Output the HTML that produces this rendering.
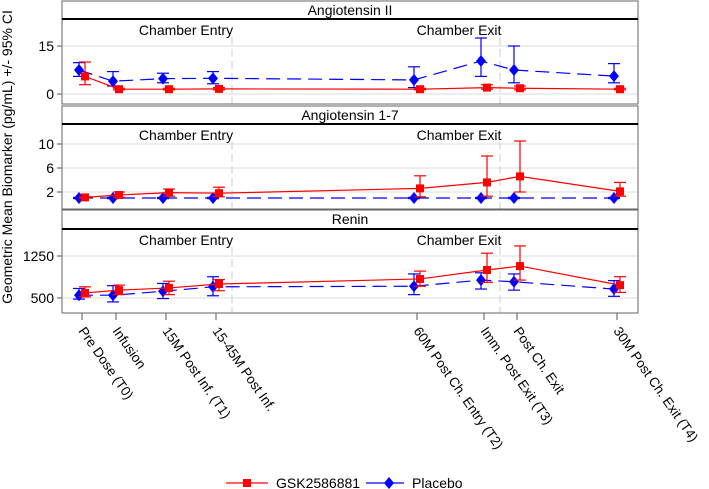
<!DOCTYPE html>
<html><head><meta charset="utf-8"><style>
body{margin:0;background:#fff}
svg{display:block;font-family:"Liberation Sans","DejaVu Sans",sans-serif}
</style></head><body>
<svg id="c" width="709" height="489" viewBox="0 0 709 489"></svg>
<script>
const categories=["Pre Dose (T0)","Infusion","15M Post Inf. (T1)","15-45M Post Inf.","60M Post Ch. Entry (T2)","Imm. Post Exit (T3)","Post Ch. Exit","30M Post Ch. Exit (T4)"];
const catTime=[0,0.68,1.68,2.68,6.7,8.04,8.7,10.7];
const panelTitles=["Angiotensin II","Angiotensin 1-7","Renin"];
const ticks1=[0,15],ticks2=[2,6,10],ticks3=[500,1250];
const ang2Placebo=[7.5,4,4.8,4.9,4.4,10.3,7.5,5.6];
const ang2PlaceboLo=[5.5,2.5,3.5,3.2,2,5.5,3.5,3.5];
const ang2PlaceboHi=[9.8,7,6.5,7,8.5,17.5,15,9.5];
const ang2Gsk=[5.5,1.5,1.5,1.6,1.5,2,1.8,1.5];
const ang2GskLo=[2.9,1.3,1.3,1.3,1.3,1.5,1.3,1.3];
const ang2GskHi=[10,1.8,1.8,2,1.8,2.9,2.5,1.8];
const ang17Placebo=[1,1,1,1,1,1,1,1];
const ang17PlaceboLo=[0.9,0.9,0.9,0.9,0.9,0.9,0.9,0.9];
const ang17PlaceboHi=[1.1,1.1,1.1,1.1,1.1,1.1,1.1,1.1];
const ang17Gsk=[1.1,1.5,1.9,1.8,2.6,3.6,4.6,2.1];
const ang17GskLo=[1,1.1,1.3,1.2,1.2,1.3,2,1.3];
const ang17GskHi=[1.2,2,2.5,2.8,4.7,8,10.5,3.6];
const reninPlacebo=[550,550,620,700,710,820,790,660];
const reninPlaceboLo=[480,430,490,540,560,660,640,530];
const reninPlaceboHi=[670,720,760,880,930,950,930,810];
const reninGsk=[590,640,680,750,840,1000,1070,730];
const reninGskLo=[520,560,560,630,710,780,820,600];
const reninGskHi=[700,730,800,830,980,1300,1430,880];

const S=document.getElementById('c'),NS='http://www.w3.org/2000/svg';
function el(t,a,p){const e=document.createElementNS(NS,t);for(const k in a)e.setAttribute(k,a[k]);(p||S).appendChild(e);return e;}
const L=62,R=638;
const x=t=>82+(617-82)*(t-catTime[0])/(catTime[7]-catTime[0]);
const panels=[
 {top:1,hb:19,bot:104,ticks:ticks1,y:v=>94-3.2*v,p:[ang2Placebo,ang2PlaceboLo,ang2PlaceboHi],g:[ang2Gsk,ang2GskLo,ang2GskHi]},
 {top:106,hb:124,bot:209,ticks:ticks2,y:v=>204-6*v,p:[ang17Placebo,ang17PlaceboLo,ang17PlaceboHi],g:[ang17Gsk,ang17GskLo,ang17GskHi]},
 {top:210,hb:229,bot:313,ticks:ticks3,y:v=>298-(v-500)*0.056,p:[reninPlacebo,reninPlaceboLo,reninPlaceboHi],g:[reninGsk,reninGskLo,reninGskHi]}
];
panels.forEach((P,i)=>{
 const g=el('g',{});
 
 
 P.ticks.forEach(t=>{
  const gy=el('line',{x1:L,x2:R,y1:P.y(t),y2:P.y(t),stroke:'#ddd'},g);
  
  el('line',{x1:L-5,x2:L,y1:P.y(t),y2:P.y(t),stroke:'#555'},g);
  const tl=el('text',{x:L-8,y:P.y(t)+5,'text-anchor':'end','font-size':14},g);tl.textContent=t;
  
 });
 [232,500].forEach(xx=>el('line',{x1:xx,x2:xx,y1:P.hb+18,y2:P.bot,stroke:'#ccc','stroke-dasharray':'8,4'},g));
 el('rect',{x:L,y:P.top,width:R-L,height:P.bot-P.top,fill:'none',stroke:'#666'},g);
 el('line',{x1:L,x2:R,y1:P.hb,y2:P.hb,stroke:'#000','stroke-width':2},g);
 const ht=el('text',{x:(L+R)/2,y:P.top+14,'text-anchor':'middle','font-size':14},g);ht.textContent=panelTitles[i];
 
 [[186,'Chamber Entry'],[459,'Chamber Exit']].forEach(([cx,s])=>{const t=el('text',{x:cx,y:P.hb+16,'text-anchor':'middle','font-size':14},g);t.textContent=s;
  });
 [[P.p,'#00f',-3,'diamond'],[P.g,'#f00',3,'square']].forEach(([d,c,off,m])=>{
  const pts=d[0].map((v,k)=>(x(catTime[k])+off)+','+P.y(v)).join(' ');
  const ln=el('polyline',{points:pts,fill:'none',stroke:c,'stroke-width':1.2,'stroke-dasharray':m=='diamond'?'14,7':''},g);
  
  d[0].forEach((v,k)=>{
   const cx=x(catTime[k])+off,lo=P.y(d[1][k]),hi=P.y(d[2][k]);
   el('line',{x1:cx,x2:cx,y1:lo,y2:hi,stroke:c,'stroke-width':1.2},g);
   el('line',{x1:cx-6,x2:cx+6,y1:lo,y2:lo,stroke:c,'stroke-width':1.2},g);
   el('line',{x1:cx-6,x2:cx+6,y1:hi,y2:hi,stroke:c,'stroke-width':1.2},g);
   const cy=P.y(v);
   const mk=m=='square'?el('rect',{x:cx-4,y:cy-4,width:8,height:8,fill:c},g):el('polygon',{points:`${cx},${cy-6} ${cx+5},${cy} ${cx},${cy+6} ${cx-5},${cy}`,fill:c},g);
   
  });
 });
});
categories.forEach((c,k)=>{
 const xx=x(catTime[k]);
 el('line',{x1:xx,x2:xx,y1:313,y2:320,stroke:'#555'});
 const t=el('text',{x:xx-4,y:331,'font-size':13.5,transform:`rotate(55 ${xx-4} 331)`});t.textContent=c;
 
});
const yt=el('text',{x:12,y:157,'text-anchor':'middle','font-size':14,transform:'rotate(-90 12 157)'});
yt.textContent='Geometric Mean Biomarker (pg/mL) +/- 95% CI';

const lg=el('g',{});

el('line',{x1:226,x2:268,y1:483,y2:483,stroke:'#f00','stroke-width':1.2},lg);
el('rect',{x:243,y:479,width:8,height:8,fill:'#f00'},lg);
const l1=el('text',{x:276,y:488,'font-size':14},lg);l1.textContent='GSK2586881';

el('line',{x1:366,x2:404,y1:483,y2:483,stroke:'#00f','stroke-width':1.2},lg);
el('polygon',{points:'389,477 394,483 389,489 384,483',fill:'#00f'},lg);
const l2=el('text',{x:412,y:488,'font-size':14},lg);l2.textContent='Placebo';

</script>
</body></html>
